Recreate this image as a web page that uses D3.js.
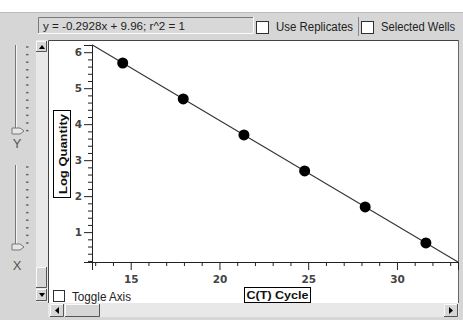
<!DOCTYPE html>
<html><head><meta charset="utf-8">
<script src="https://cdn.jsdelivr.net/npm/d3@7"></script>
<style>body{margin:0;background:#fff}svg{display:block;font-family:"Liberation Sans",Arial,sans-serif}</style>
</head><body><div id="c"></div>
<script>
// ---- data ----
const ctCycle = [14.55, 17.96, 21.38, 24.80, 28.21, 31.63];
const logQuantity = [5.7, 4.7, 3.7, 2.7, 1.7, 0.7];
const slope = -0.2928, intercept = 9.96;
const xMajorTicks = [15, 20, 25, 30];
const yMajorTicks = [1, 2, 3, 4, 5, 6];
const xDomain = [12.82, 33.44];
const yDomain = [0.17, 6.2];
const equationText = "y = -0.2928x + 9.96;  r^2 = 1";

const W = 463, H = 320;
const svg = d3.select("#c").append("svg").attr("width", W).attr("height", H);
const face = "#d6d6d6";

// background
svg.append("rect").attr("width", W).attr("height", H).attr("fill", face);
svg.append("rect").attr("width", W).attr("height", 12).attr("fill", "#fff");
svg.append("line").attr("x1",0).attr("x2",W).attr("y1",12.5).attr("y2",12.5).attr("stroke","#bcbcbc");

function sunken(x,y,w,h,fill){
  svg.append("rect").attr("x",x).attr("y",y).attr("width",w).attr("height",h).attr("fill",fill);
  svg.append("path").attr("d",`M${x+0.5},${y+h}V${y+0.5}H${x+w}`).attr("stroke","#7a7a7a").attr("fill","none");
  svg.append("path").attr("d",`M${x+w-0.5},${y}V${y+h-0.5}H${x}`).attr("stroke","#fafafa").attr("fill","none");
}
function raised(x,y,w,h){
  svg.append("rect").attr("x",x).attr("y",y).attr("width",w).attr("height",h).attr("fill",face);
  svg.append("path").attr("d",`M${x+0.5},${y+h}V${y+0.5}H${x+w}`).attr("stroke","#fafafa").attr("fill","none");
  svg.append("path").attr("d",`M${x+w-0.5},${y}V${y+h-0.5}H${x}`).attr("stroke","#555").attr("fill","none");
}
function checkbox(x,y,s){
  svg.append("rect").attr("x",x+0.5).attr("y",y+0.5).attr("width",s).attr("height",s).attr("fill","#fff").attr("stroke","#303030");
}

// top bar
sunken(38,17,216,17,"#d8d8d8");
svg.append("text").attr("x",43).attr("y",29.5).attr("font-size",11).attr("fill","#222")
  .attr("textLength",142).attr("lengthAdjust","spacingAndGlyphs").text(equationText);
checkbox(256,21,12);
svg.append("text").attr("x",276).attr("y",31).attr("font-size",12).attr("fill","#222")
  .attr("textLength",77).attr("lengthAdjust","spacingAndGlyphs").text("Use Replicates");
svg.append("line").attr("x1",358.5).attr("x2",358.5).attr("y1",17).attr("y2",36).attr("stroke","#888");
checkbox(361,21,12);
svg.append("text").attr("x",381).attr("y",31).attr("font-size",12).attr("fill","#222")
  .attr("textLength",74).attr("lengthAdjust","spacingAndGlyphs").text("Selected Wells");

// left sliders
function slider(y0,y1,thumbY,label,labelY){
  svg.append("line").attr("x1",15.5).attr("x2",15.5).attr("y1",y0).attr("y2",y1).attr("stroke","#777");
  svg.append("line").attr("x1",16.5).attr("x2",16.5).attr("y1",y0).attr("y2",y1).attr("stroke","#f4f4f4");
  d3.range(y0+2,y1+1,7.6).forEach(t=>{
    svg.append("line").attr("x1",26).attr("x2",28.5).attr("y1",t).attr("y2",t).attr("stroke","#666").attr("stroke-width",1.5);
  });
  svg.append("path").attr("d",`M12,${thumbY-3}H20L24,${thumbY}L20,${thumbY+3}H12Z`).attr("fill","#e6e6e6").attr("stroke","#777");
  svg.append("text").attr("x",17).attr("y",labelY).attr("text-anchor","middle").attr("font-size",13).attr("fill","#555").text(label);
}
slider(45,133,131,"Y",148);
slider(165,249,247,"X",270);

// white plot panel
svg.append("rect").attr("x",48).attr("y",40).attr("width",410).attr("height",263).attr("fill","#fff");
svg.append("path").attr("d","M48.5,303V40.5H458").attr("stroke","#444").attr("fill","none");
svg.append("path").attr("d","M458.5,40V303").attr("stroke","#666").attr("fill","none");

// vertical scrollbar
svg.append("rect").attr("x",36).attr("y",40).attr("width",12).attr("height",262).attr("fill","#e8e8e8");
raised(36,41,11,11);
svg.append("path").attr("d","M39,49H45L42,45Z").attr("fill","#000");
raised(36,267,11,21);
raised(36,289,11,12);
svg.append("path").attr("d","M39,293H45L42,297Z").attr("fill","#000");

// bottom scrollbar
svg.append("rect").attr("x",48).attr("y",303).attr("width",411).attr("height",14).attr("fill","#e8e8e8");
raised(50,304,14,13);
svg.append("path").attr("d","M59,307V314L55,310.5Z").attr("fill","#000");
raised(65,304,35,13);
raised(444,304,14,13);
svg.append("path").attr("d","M449,307V314L453,310.5Z").attr("fill","#000");

// chart
const x = d3.scaleLinear().domain(xDomain).range([92, 458]);
const y = d3.scaleLinear().domain(yDomain).range([262, 45]);
const axisColor = "#222";

const gx = svg.append("g").attr("transform","translate(0,262)");
gx.call(d3.axisBottom(x).tickValues(d3.range(13,34,1).filter(v=>!xMajorTicks.includes(v))).tickSize(4).tickFormat(""));
gx.append("g").call(d3.axisBottom(x).tickValues(xMajorTicks).tickSize(8).tickFormat(d3.format("d")));
gx.selectAll(".domain").attr("stroke",axisColor);
gx.selectAll("line").attr("stroke",axisColor);
gx.selectAll("text").attr("font-size",10.5).attr("font-weight","bold").attr("fill","#444").attr("dy","0.95em")
  .attr("font-family","'DejaVu Sans',sans-serif");

const gy = svg.append("g").attr("transform","translate(92,0)");
const yMinor = d3.range(0.2,6.21,0.2).map(v=>+v.toFixed(1)).filter(v=>!yMajorTicks.includes(v));
gy.call(d3.axisLeft(y).tickValues(yMinor).tickSize(4).tickFormat(""));
gy.append("g").call(d3.axisLeft(y).tickValues(yMajorTicks).tickSize(8).tickFormat(d3.format("d")));
gy.selectAll(".domain").attr("stroke",axisColor);
gy.selectAll("line").attr("stroke",axisColor);
gy.selectAll("text").attr("font-size",10.5).attr("font-weight","bold").attr("fill","#444").attr("dx","0.1em")
  .attr("font-family","'DejaVu Sans',sans-serif");

// regression line
svg.append("line")
  .attr("x1",x(xDomain[0])).attr("y1",y(slope*xDomain[0]+intercept))
  .attr("x2",x(xDomain[1])).attr("y2",y(slope*xDomain[1]+intercept))
  .attr("stroke","#333").attr("stroke-width",1.1);

// points
svg.selectAll("circle.pt").data(ctCycle).enter().append("circle").attr("class","pt")
  .attr("cx",(d)=>x(d)).attr("cy",(d,i)=>y(logQuantity[i])).attr("r",5.5).attr("fill","#000");

// axis titles
svg.append("rect").attr("x",244.5).attr("y",287.5).attr("width",66).attr("height",15).attr("fill","#fff").attr("stroke","#000");
svg.append("text").attr("x",277.5).attr("y",299).attr("text-anchor","middle").attr("font-size",11.5).attr("font-weight","bold").attr("fill","#111")
  .attr("textLength",62).attr("lengthAdjust","spacingAndGlyphs").text("C(T) Cycle");
svg.append("rect").attr("x",53.5).attr("y",110.5).attr("width",17).attr("height",87).attr("fill","#fff").attr("stroke","#000");
svg.append("text").attr("transform","translate(66.5,154) rotate(-90)").attr("text-anchor","middle").attr("font-size",11.5).attr("font-weight","bold").attr("fill","#111")
  .attr("textLength",80).attr("lengthAdjust","spacingAndGlyphs").text("Log Quantity");

// toggle axis
checkbox(53,290,11);
svg.append("text").attr("x",72).attr("y",301).attr("font-size",12).attr("fill","#222")
  .attr("textLength",59).attr("lengthAdjust","spacingAndGlyphs").text("Toggle Axis");
</script></body></html>
